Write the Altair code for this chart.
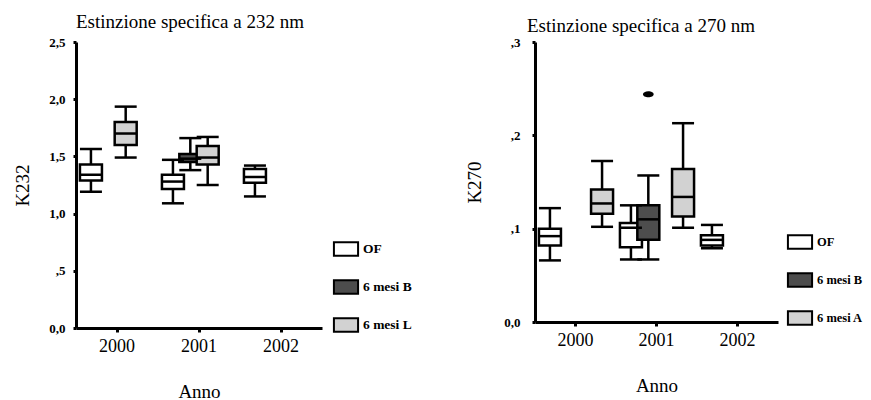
import altair as alt
import pandas as pd

# ---- data ----
years = ["2000", "2000", "2001", "2001", "2001", "2002"]

groups_232 = ["OF", "6 mesi L", "OF", "6 mesi B", "6 mesi L", "OF"]
k232_low = [1.19, 1.49, 1.09, 1.38, 1.25, 1.15]
k232_q1 = [1.29, 1.60, 1.215, 1.45, 1.43, 1.27]
k232_med = [1.34, 1.70, 1.28, 1.48, 1.49, 1.32]
k232_q3 = [1.43, 1.80, 1.34, 1.52, 1.59, 1.39]
k232_high = [1.565, 1.935, 1.47, 1.66, 1.67, 1.42]

groups_270 = ["OF", "6 mesi A", "OF", "6 mesi B", "6 mesi A", "OF"]
k270_low = [0.066, 0.102, 0.067, 0.067, 0.101, 0.079]
k270_q1 = [0.082, 0.116, 0.080, 0.088, 0.113, 0.082]
k270_med = [0.092, 0.127, 0.101, 0.110, 0.134, 0.088]
k270_q3 = [0.100, 0.142, 0.106, 0.125, 0.164, 0.093]
k270_high = [0.122, 0.1725, 0.125, 0.157, 0.213, 0.104]

outlier_year = ["2001"]
outlier_group = ["6 mesi B"]
outlier_k270 = [0.244]

legend_232 = ["OF", "6 mesi B", "6 mesi L"]
legend_270 = ["OF", "6 mesi B", "6 mesi A"]
fills = ["#ffffff", "#4d4d4d", "#d2d2d2"]
year_domain = ["2000", "2001", "2002"]

FONT = "Liberation Serif"
RECT = "M-1.8,-1H1.8V1H-1.8Z"


def panel(df, out_df, groups, title, ytitle, ymax, yvalues, label_expr,
          width, height, legend_x, legend_y, lab_pad, tit_pad, title_offset, title_dx,
          legend_font):
    yscale = alt.Scale(domain=[0, ymax], nice=False, zero=True)
    yaxis = alt.Axis(values=yvalues, labelExpr=label_expr, labelFontSize=13,
                     labelFontWeight="bold", domain=True, domainColor="black",
                     domainWidth=3, domainOpacity=1, ticks=True, tickColor="black",
                     tickOpacity=1, tickSize=3, tickWidth=3, labelPadding=lab_pad,
                     titleFontSize=19, titleFontWeight="normal", titlePadding=tit_pad,
                     grid=False, zindex=1)

    def Y(field):
        return alt.Y(field, type="quantitative", scale=yscale, axis=yaxis, title=ytitle)

    x = alt.X("year:N", scale=alt.Scale(domain=year_domain, paddingInner=0, paddingOuter=0),
              axis=alt.Axis(labelAngle=0, labelFontSize=18, domain=True, domainColor="black",
                            domainWidth=3, domainOpacity=1, ticks=True, tickColor="black",
                            tickOpacity=1, tickSize=4, tickWidth=3, labelPadding=5,
                            titleFontSize=19, titleFontWeight="normal", titlePadding=27,
                            grid=False, zindex=1),
              title="Anno")
    xoff = alt.XOffset("group:N", scale=alt.Scale(domain=groups, paddingInner=0,
                                                  paddingOuter=0.36))
    base = alt.Chart(df).encode(x=x, xOffset=xoff)

    whisk = base.mark_rule(color="black", strokeWidth=2.5).encode(y=Y("low"), y2="high:Q")
    box = base.mark_bar(stroke="black", strokeWidth=2.5, size=22).encode(
        y=Y("q1"), y2="q3:Q",
        fill=alt.Fill("group:N", scale=alt.Scale(domain=groups, range=fills),
                      legend=alt.Legend(orient="none", legendX=legend_x, legendY=legend_y,
                                        title=None, symbolType=RECT, symbolSize=180,
                                        symbolStrokeColor="black", symbolStrokeWidth=2,
                                        labelFont=FONT, labelFontSize=legend_font,
                                        labelFontWeight="bold", labelColor="black",
                                        rowPadding=16, labelOffset=9)))
    med = base.mark_tick(color="black", thickness=2.5, size=22, opacity=1).encode(y=Y("med"))
    cap_lo = base.mark_tick(color="black", thickness=2.5, size=22, opacity=1).encode(y=Y("low"))
    cap_hi = base.mark_tick(color="black", thickness=2.5, size=22, opacity=1).encode(y=Y("high"))
    layers = [whisk, box, med, cap_lo, cap_hi]
    if out_df is not None:
        pts = alt.Chart(out_df).mark_point(filled=True, color="black", size=45,
                                           shape="M-1.6,0A1.6,0.9 0 1,0 1.6,0A1.6,0.9 0 1,0 -1.6,0Z",
                                           opacity=1).encode(x=x, xOffset=xoff, y=Y("value"))
        layers.append(pts)
    return alt.layer(*layers).properties(
        width=width, height=height,
        title=alt.TitleParams(title, font=FONT, fontSize=19, fontWeight="normal",
                              anchor="start", frame="group", dx=title_dx,
                              offset=title_offset, color="black"))


df232 = pd.DataFrame({"year": years, "group": groups_232, "low": k232_low, "q1": k232_q1,
                      "med": k232_med, "q3": k232_q3, "high": k232_high})
df270 = pd.DataFrame({"year": years, "group": groups_270, "low": k270_low, "q1": k270_q1,
                      "med": k270_med, "q3": k270_q3, "high": k270_high})
out270 = pd.DataFrame({"year": outlier_year, "group": outlier_group, "value": outlier_k270})

expr232 = ("datum.value == 0 ? '0,0' : (datum.value < 1 ? ',' + format(datum.value * 10, '.0f') "
           ": replace(format(datum.value, '.1f'), '.', ','))")
expr270 = "datum.value == 0 ? '0,0' : ',' + format(datum.value * 10, '.0f')"

left = panel(df232, None, legend_232, "Estinzione specifica a 232 nm", "K232", 2.5,
             [0, 0.5, 1.0, 1.5, 2.0, 2.5], expr232, 246, 286, 262, 199, 8, 16, 4, 0, 13.5)
right = panel(df270, out270, legend_270, "Estinzione specifica a 270 nm", "K270", 0.3,
              [0, 0.1, 0.2, 0.3], expr270, 243, 280, 257, 192, 12, 19, 0, -8, 12.5)

chart = alt.hconcat(left, right, spacing=53).resolve_scale(fill="independent").configure_view(
    stroke=None
).configure_axis(
    domainColor="black", tickColor="black", grid=False, labelFont=FONT, titleFont=FONT,
    labelColor="black", titleColor="black"
).properties(background="white",
             padding={"left": 5, "top": 5, "right": 0, "bottom": 0})

chart.save("out.html", embed_options={"renderer": "svg", "actions": False})
